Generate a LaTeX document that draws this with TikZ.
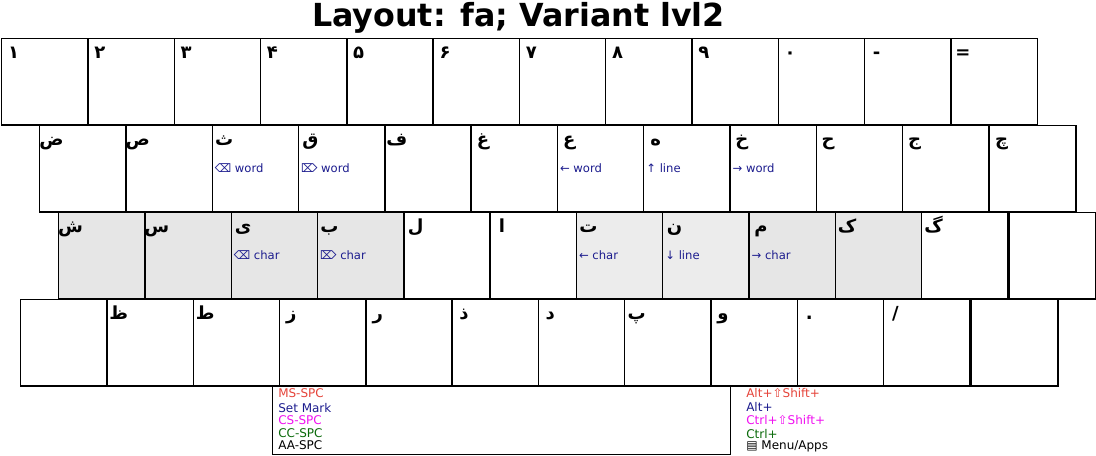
\documentclass[tikz,border=0pt]{standalone}
\usepackage{fontspec}
\setmainfont{DejaVu Sans}
\newfontfamily\farsi[Script=Arabic]{DejaVu Sans}
\usepackage{xcolor}
\usetikzlibrary{positioning}

\definecolor{keygray}{HTML}{E6E6E6}
\definecolor{keylight}{HTML}{ECECEC}
\definecolor{subblue}{HTML}{1C1C8E}
\definecolor{legred}{HTML}{E5443A}
\definecolor{legmag}{HTML}{F010F0}
\definecolor{leggreen}{HTML}{0A6A0A}

\tikzset{
  keycap/.style={draw,line width=1pt,inner sep=0pt,minimum size=64.7pt,anchor=north west},
  keychar/.style={inner sep=0pt,anchor=base,font=\farsi\bfseries\fontsize{13.5}{14}\selectfont},
  keysub/.style={inner sep=0pt,anchor=base west,text=subblue,font=\fontsize{8.7}{9}\selectfont},
  legend/.style={inner sep=0pt,anchor=west,font=\fontsize{9}{10}\selectfont}
}

\begin{document}
\begin{tikzpicture}[x=0.75pt,y=-0.75pt]
\useasboundingbox (0,0) rectangle (1096,455);
\node[inner sep=0pt,anchor=base,font=\bfseries\fontsize{23.8}{26}\selectfont] (title) at (518.5,26) {Layout: fa; Variant lvl2};
% row 1, digits
\foreach \ch [count=\i from 0] in {۱,۲,۳,۴,۵,۶,۷,۸,۹,۰,-,=}{
  \node[keycap,fill=white] (ka\i) at (1+86.3*\i,38) {};
  \node[keychar] (ta\i) at ([shift={(12.5,20)}]ka\i.north west) {\ch};
}
% row 2
\foreach \ch/\sub [count=\i from 0] in {ض/,ص/,ث/{⌫ word},ق/{⌦ word},ف/,غ/,ع/{← word},ه/{↑ line},خ/{→ word},ح/,ج/}{
  \node[keycap,fill=white] (kb\i) at (39+86.3*\i,125) {};
  \node[keychar] (tb\i) at ([shift={(12.5,20)}]kb\i.north west) {\ch};
  \node[keysub] (sb\i) at ([shift={(3,47)}]kb\i.north west) {\sub};
}
\node[keycap,fill=white] (kb11) at (989,125) {};
\node[keychar] (tb11) at ([shift={(12.5,20)}]kb11.north west) {چ};
% row 3, home row
\foreach \ch/\fl/\sub [count=\i from 0] in {ش/keygray/,س/keygray/,ی/keygray/{⌫ char},ب/keygray/{⌦ char},ل/white/,ا/white/,ت/keylight/{← char},ن/keylight/{↓ line},م/keygray/{→ char},ک/keygray/,گ/white/}{
  \node[keycap,fill=\fl] (kc\i) at (58+86.3*\i,212) {};
  \node[keychar] (tc\i) at ([shift={(12.5,20)}]kc\i.north west) {\ch};
  \node[keysub] (sc\i) at ([shift={(3,47)}]kc\i.north west) {\sub};
}
\node[keycap,fill=white] (kc11) at (1009,212) {};
% row 4
\foreach \ch [count=\i from 0] in {{},ظ,ط,ز,ر,ذ,د,پ,و,{.},/}{
  \node[keycap,fill=white] (kd\i) at (20+86.3*\i,299) {};
  \node[keychar] (td\i) at ([shift={(12.5,20)}]kd\i.north west) {\ch};
}
\node[keycap,fill=white] (kd11) at (971,299) {};
% space bar and modifiers
\node[draw,line width=0.75pt,inner sep=0pt,minimum width=343.5pt,minimum height=51pt,anchor=north west] (spc) at (272,386) {};
\node[legend,text=legred] (lg1) at (278,393) {MS-SPC};
\node[legend,text=subblue] (lg2) at (278,408) {Set Mark};
\node[legend,text=legmag] (lg3) at (278,420) {CS-SPC};
\node[legend,text=leggreen] (lg4) at (278,433) {CC-SPC};
\node[legend,text=black] (lg5) at (278,445) {AA-SPC};
\node[legend,text=legred] (md1) at (746,393) {Alt+⇧Shift+};
\node[legend,text=subblue] (md2) at (746,407) {Alt+};
\node[legend,text=legmag] (md3) at (746,420) {Ctrl+⇧Shift+};
\node[legend,text=leggreen] (md4) at (746,434) {Ctrl+};
\node[legend,text=black] (md5) at (746,446) {▤ Menu/Apps};
\end{tikzpicture}
\end{document}
